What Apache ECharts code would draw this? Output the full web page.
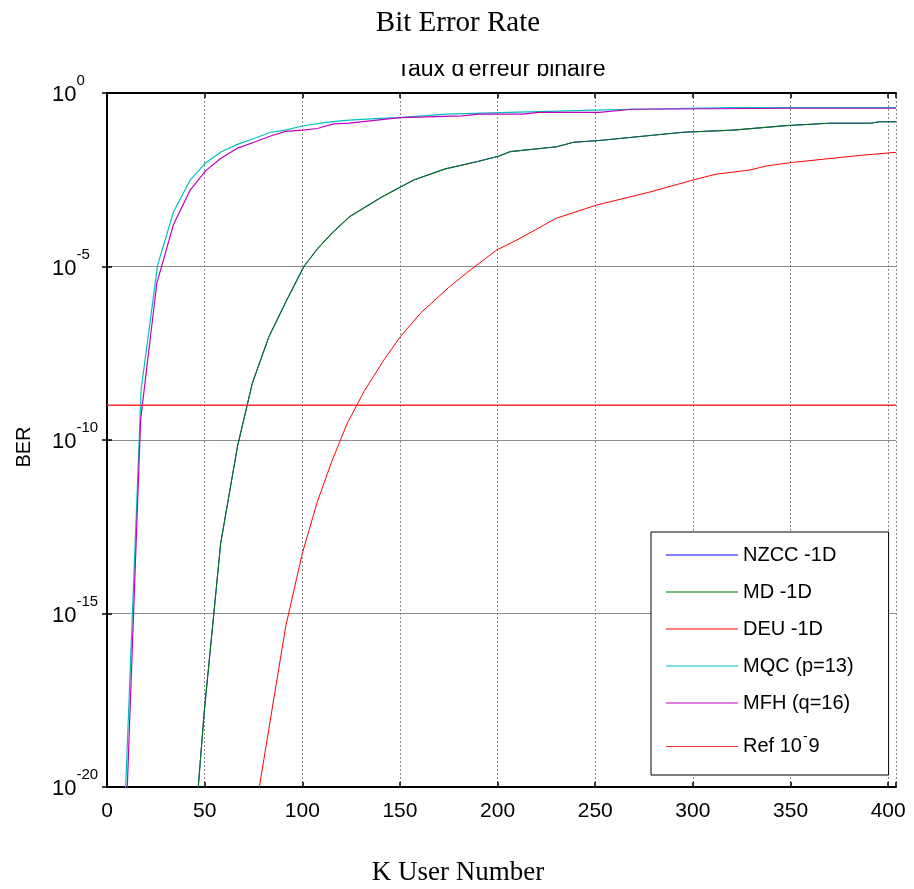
<!DOCTYPE html>
<html>
<head>
<meta charset="utf-8">
<title>Bit Error Rate</title>
<script src="https://cdn.jsdelivr.net/npm/echarts@6/dist/echarts.min.js"></script>
<style>
    html, body {margin: 0; padding: 0; background: #fff;}
    #chart {width: 914px; height: 889px;}
</style>
</head>
<body>
<div id="chart"></div>
<script>
// valeurs (K, BER)
var mqcK   = [9, 17.5, 25.9, 34.1, 42.6, 50.6, 58.3, 66.8, 75.3, 83.8, 91.5, 100, 109.4, 119.6, 124, 139.5, 149.7, 173.6, 206, 250, 270, 320, 404];
var mqcBer = [1.6e-21, 2.9e-9, 1.1e-5, 3.8e-4, 3.1e-3, 9.8e-3, 0.020, 0.033, 0.049, 0.074, 0.085, 0.112, 0.135, 0.158, 0.166, 0.186, 0.195, 0.245, 0.275, 0.32, 0.34, 0.38, 0.38];

var mfhK   = [10, 17.2, 25.5, 34.1, 42.6, 50.6, 58.3, 66.8, 75.3, 83.8, 91.5, 100, 107.7, 116, 124, 150, 182, 190.6, 213, 221, 252, 269, 350, 404];
var mfhBer = [2.5e-21, 3.8e-10, 3.3e-6, 1.66e-4, 1.6e-3, 5.8e-3, 0.0132, 0.0257, 0.038, 0.0575, 0.078, 0.085, 0.095, 0.129, 0.135, 0.195, 0.219, 0.245, 0.245, 0.275, 0.275, 0.34, 0.363, 0.363];

var mdK   = [41, 49.7, 58.2, 66.8, 74.4, 82.9, 92, 100.8, 107.7, 115.3, 124.3, 140.9, 157, 173.2, 189.4, 200.5, 206.4, 230.3, 238.8, 252, 295, 320.5, 347.8, 370, 391, 395.5, 404];
var mdBer = [8e-25, 1.3e-18, 1.05e-13, 6.5e-11, 4.3e-9, 9.5e-8, 1.07e-6, 1.0e-5, 3.2e-5, 9.3e-5, 2.75e-4, 1.02e-3, 3.1e-3, 6.5e-3, 0.0105, 0.0151, 0.0204, 0.0282, 0.038, 0.0427, 0.074, 0.085, 0.115, 0.135, 0.135, 0.148, 0.148];

// NZCC se superpose a MD sur la figure
var nzccK   = mdK;
var nzccBer = mdBer;

var deuK   = [76, 84.7, 91.5, 100, 107.7, 115.3, 123, 131.5, 141.7, 150.2, 160.5, 175, 186, 199.6, 209.9, 230, 250.7, 278, 301.8, 312, 329, 337.6, 351, 387, 404];
var deuBer = [2e-21, 2.0e-18, 4.2e-16, 5.4e-14, 1.66e-12, 2.6e-11, 3.0e-10, 2.45e-9, 2.0e-8, 9.5e-8, 4.5e-7, 2.5e-6, 7.9e-6, 3.0e-5, 5.8e-5, 2.45e-4, 5.9e-4, 1.4e-3, 3.3e-3, 4.6e-3, 6.0e-3, 7.9e-3, 0.01, 0.0162, 0.0195];

var refK   = [0, 404];
var refBer = [1e-9, 1e-9];

var xTicks = [0, 50, 100, 150, 200, 250, 300, 350, 400];

var fontSans = 'Arial, "Liberation Sans", sans-serif';
var fontSerif = '"Times New Roman", "Liberation Serif", serif';

function pairs(xs, ys) {
    var out = [];
    for (var i = 0; i < xs.length; i++) {
        out.push([xs[i], ys[i]]);
    }
    return out;
}

function lineSerie(name, xs, ys, color, width, opacity) {
    return {
        name: name,
        type: 'line',
        data: pairs(xs, ys),
        symbol: 'none',
        showSymbol: false,
        animation: false,
        clip: true,
        lineStyle: {color: color, width: width, opacity: opacity == null ? 1 : opacity},
        itemStyle: {color: color}
    };
}

var myChart = echarts.init(document.getElementById('chart'), null, {renderer: 'canvas'});

var option = {
    backgroundColor: '#fff',
    animation: false,
    grid: {left: 107, top: 93, right: 18, bottom: 102, outerBoundsMode: 'none', containLabel: false},
    graphic: [
        {
            type: 'text', z: 1, x: 501, y: 81,
            style: {text: "Taux d'erreur binaire", font: '23px ' + fontSans, fill: '#000', textAlign: 'center', textVerticalAlign: 'bottom'}
        },
        {
            type: 'rect', z: 2, shape: {x: 300, y: 0, width: 420, height: 64},
            style: {fill: '#fff'}
        },
        {
            type: 'text', z: 3, x: 458, y: 23,
            style: {text: 'Bit Error Rate', font: '29px ' + fontSerif, fill: '#000', textAlign: 'center', textVerticalAlign: 'middle'}
        },
        {
            type: 'text', z: 3, x: 458, y: 873,
            style: {text: 'K User Number', font: '27px ' + fontSerif, fill: '#000', textAlign: 'center', textVerticalAlign: 'middle'}
        }
    ],
    legend: {
        orient: 'vertical',
        left: 651,
        top: 532,
        padding: [13, 35, 12, 15],
        itemGap: 17,
        itemWidth: 72,
        itemHeight: 1,
        icon: 'rect',
        backgroundColor: '#fff',
        borderColor: '#000',
        borderWidth: 1,
        borderRadius: 0,
        data: ['NZCC -1D', 'MD -1D', 'DEU -1D', 'MQC (p=13)', 'MFH (q=16)', 'Ref 10^-9'],
        formatter: function (name) {
            if (name === 'Ref 10^-9') {
                return '{b|Ref 10}{s|-}{b|9}';
            }
            return '{b|' + name + '}';
        },
        textStyle: {
            color: '#000',
            fontFamily: fontSans,
            fontSize: 20,
            rich: {
                b: {fontFamily: fontSans, fontSize: 20, lineHeight: 20, color: '#000'},
                s: {fontFamily: fontSans, fontSize: 14, lineHeight: 14, color: '#000', padding: [0, 1, 19, 1]}
            }
        }
    },
    xAxis: [
        {
            type: 'value',
            min: 0,
            max: 404,
            interval: 50,
            axisLine: {show: true, lineStyle: {color: '#000', width: 2}},
            axisTick: {show: true, inside: true, length: 5, lineStyle: {color: '#000', width: 1.5}},
            axisLabel: {
                margin: 14,
                color: '#000',
                fontFamily: fontSans,
                fontSize: 21,
                formatter: function (v) {
                    return xTicks.indexOf(v) >= 0 ? String(v) : '';
                }
            },
            splitLine: {show: true, lineStyle: {color: '#8a8a8a', width: 1, type: [2, 2]}}
        },
        {
            type: 'value',
            position: 'top',
            min: 0,
            max: 404,
            interval: 50,
            axisLine: {show: true, lineStyle: {color: '#000', width: 2}},
            axisTick: {show: true, inside: true, length: 5, lineStyle: {color: '#000', width: 1.5}},
            axisLabel: {show: false},
            splitLine: {show: false}
        }
    ],
    yAxis: [
        {
            type: 'log',
            logBase: 10,
            min: 1e-20,
            max: 1,
            interval: 5,
            splitNumber: 4,
            name: 'BER',
            nameLocation: 'middle',
            nameGap: 73,
            nameTextStyle: {color: '#000', fontFamily: fontSans, fontSize: 20, padding: [0, 14, 0, 0]},
            axisLine: {show: true, lineStyle: {color: '#000', width: 2}},
            axisTick: {show: true, inside: true, length: 5, lineStyle: {color: '#000', width: 1.5}},
            minorTick: {show: false},
            axisLabel: {
                margin: 55,
                align: 'left',
                formatter: function (v) {
                    var e = Math.round(Math.log(v) / Math.LN10);
                    return '{b|10}{s|' + e + '}';
                },
                rich: {
                    b: {fontFamily: fontSans, fontSize: 22, lineHeight: 22, color: '#000', padding: [4, 0, 0, 0]},
                    s: {fontFamily: fontSans, fontSize: 15, lineHeight: 15, color: '#000', padding: [0, 0, 24, 0]}
                }
            },
            splitLine: {show: true, lineStyle: {color: '#8a8a8a', width: 1, type: 'solid'}}
        },
        {
            type: 'log',
            logBase: 10,
            position: 'right',
            min: 1e-20,
            max: 1,
            interval: 5,
            splitNumber: 4,
            axisLine: {show: true, lineStyle: {color: '#000', width: 1.5}},
            axisTick: {show: true, inside: true, length: 5, lineStyle: {color: '#000', width: 1.5}},
            minorTick: {show: false},
            axisLabel: {show: false},
            splitLine: {show: false}
        }
    ],
    series: [
        lineSerie('NZCC -1D', nzccK, nzccBer, '#0000ff', 1),
        lineSerie('MD -1D', mdK, mdBer, '#008000', 1.1, 0.9),
        lineSerie('DEU -1D', deuK, deuBer, '#ff0000', 1),
        lineSerie('MQC (p=13)', mqcK, mqcBer, '#00bfbf', 1.2),
        lineSerie('MFH (q=16)', mfhK, mfhBer, '#bf00bf', 1.2),
        lineSerie('Ref 10^-9', refK, refBer, '#ff3030', 1.5)
    ]
};

myChart.setOption(option);
</script>
</body>
</html>
